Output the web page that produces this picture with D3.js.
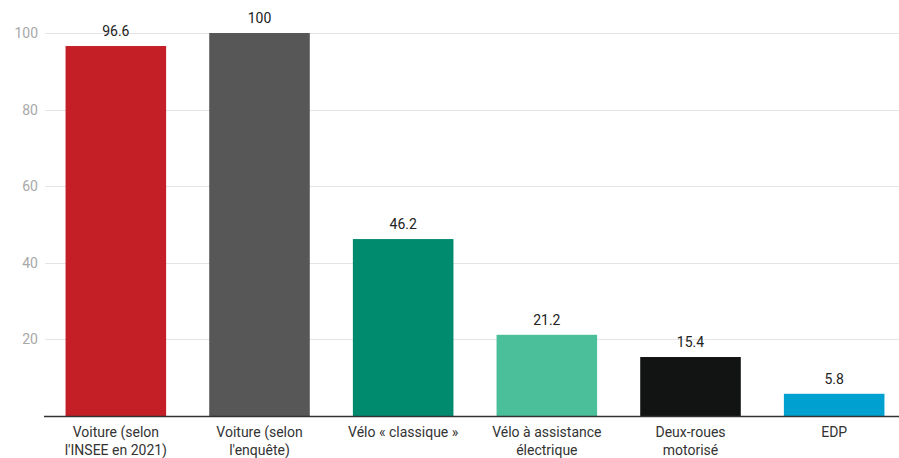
<!DOCTYPE html>
<html>
<head>
<meta charset="utf-8">
<script src="https://cdn.jsdelivr.net/npm/d3@7/dist/d3.min.js"></script>
<style>
  html, body { margin: 0; padding: 0; background: #fff; }
  svg { display: block; font-family: Roboto, "Noto Sans", sans-serif; }
</style>
</head>
<body>
<svg id="chart" width="899" height="458"></svg>
<script>
const categories = [
  ["Voiture (selon", "l'INSEE en 2021)"],
  ["Voiture (selon", "l'enquête)"],
  ["Vélo « classique »"],
  ["Vélo à assistance", "électrique"],
  ["Deux-roues", "motorisé"],
  ["EDP"]
];
const values = [96.6, 100, 46.2, 21.2, 15.4, 5.8];
const valueLabels = ["96.6", "100", "46.2", "21.2", "15.4", "5.8"];
const colors = ["#c41f26", "#575757", "#008b6f", "#4bbf9a", "#121413", "#00a0d0"];
const yTicks = [20, 40, 60, 80, 100];

const W = 899, H = 458;
const svg = d3.select("#chart");

const x = d3.scaleBand()
  .domain(d3.range(categories.length))
  .range([44, 906])
  .paddingInner(0.3)
  .paddingOuter(0.15);

const y = d3.scaleLinear().domain([0, 100]).range([416, 33]);

// gridlines + tick labels
const yAxis = d3.axisLeft(y).tickValues(yTicks).tickSize(0).tickPadding(7);
const gy = svg.append("g").attr("transform", "translate(45,0)").call(yAxis);
gy.select(".domain").remove();
gy.selectAll("text")
  .attr("fill", "#a8a8a8")
  .style("font-size", "14px")
  .style("font-family", "Roboto, sans-serif");

svg.append("g").selectAll("line")
  .data(yTicks)
  .join("line")
  .attr("x1", 45).attr("x2", W)
  .attr("y1", d => Math.round(y(d)) + 0.5)
  .attr("y2", d => Math.round(y(d)) + 0.5)
  .attr("stroke", "#e4e4e4")
  .attr("stroke-width", 1);

// bars
svg.append("g").selectAll("rect")
  .data(values)
  .join("rect")
  .attr("x", (d, i) => x(i))
  .attr("y", d => y(d))
  .attr("width", x.bandwidth())
  .attr("height", d => y(0) - y(d))
  .attr("fill", (d, i) => colors[i]);

// value labels
svg.append("g").selectAll("text")
  .data(values)
  .join("text")
  .attr("x", (d, i) => x(i) + x.bandwidth() / 2)
  .attr("y", d => y(d) - 10)
  .attr("text-anchor", "middle")
  .attr("fill", "#222")
  .style("font-size", "14px")
  .text((d, i) => valueLabels[i]);

// x axis line
svg.append("line")
  .attr("x1", 44).attr("x2", W)
  .attr("y1", 416.5).attr("y2", 416.5)
  .attr("stroke", "#333")
  .attr("stroke-width", 1.3);

// category labels
const xAxis = d3.axisBottom(x).tickSize(0).tickFormat("");
const gx = svg.append("g").attr("transform", "translate(0,416)").call(xAxis);
gx.select(".domain").remove();
gx.selectAll(".tick").each(function(d) {
  const t = d3.select(this).append("text")
    .attr("text-anchor", "middle")
    .attr("fill", "#333")
    .style("font-size", "14px")
    .style("font-family", "Roboto, sans-serif");
  categories[d].forEach((line, k) => {
    t.append("tspan").attr("x", 0).attr("y", 21 + k * 18).text(line);
  });
});
</script>
</body>
</html>
